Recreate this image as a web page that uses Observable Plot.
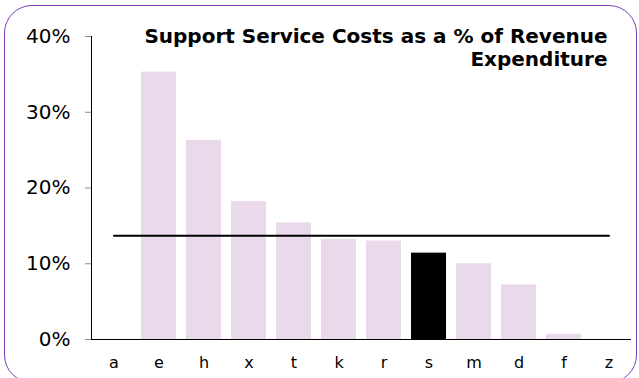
<!DOCTYPE html>
<html>
<head>
<meta charset="utf-8">
<script src="https://cdn.jsdelivr.net/npm/d3@7"></script>
<script src="https://cdn.jsdelivr.net/npm/@observablehq/plot@0.6"></script>
<style>
  html, body { margin: 0; padding: 0; background: #fff; }
  #wrap { position: relative; width: 639px; height: 378px; overflow: hidden; }
  #border { position: absolute; left: 4px; top: 5px; width: 631px; height: 376px;
    border: 1.5px solid #7a3bbb; border-radius: 28px; pointer-events: none; }
  svg { font-family: "DejaVu Sans", Verdana, sans-serif; }
</style>
</head>
<body>
<div id="wrap"><div id="border"></div></div>
<script>
const categories = ["a","e","h","x","t","k","r","s","m","d","f","z"];
const values = [0, 35.3, 26.3, 18.2, 15.4, 13.2, 13.0, 11.4, 10.0, 7.2, 0.7, 0];
const highlight = "s";
const average = 13.7;
const yTicks = [0, 10, 20, 30, 40];
const title = "Support Service Costs as a % of Revenue\nExpenditure";

const data = categories.map((c, i) => ({cat: c, value: values[i]}));
const avgLine = [categories[0], categories[categories.length - 1]].map(c => ({cat: c, value: average}));

const chart = Plot.plot({
  width: 639,
  height: 378,
  marginLeft: 91,
  marginRight: 8,
  marginTop: 36,
  marginBottom: 39,
  style: {fontFamily: "DejaVu Sans, Verdana, sans-serif", background: "transparent"},
  x: {domain: categories, paddingInner: 0.22, paddingOuter: 0.11},
  y: {domain: [0, 40]},
  marks: [
    Plot.barY(data.filter(d => d.value > 0), {x: "cat", y: "value",
      fill: d => d.cat === highlight ? "#000000" : "#ead9eb"}),
    Plot.lineY(avgLine, {x: "cat", y: "value", stroke: "#000", strokeWidth: 2}),
    Plot.axisY({ticks: yTicks, tickFormat: d => d + "%", tickSize: 6, tickPadding: 15,
      fontSize: 20, label: null, stroke: "#888", fill: "#000"}),
    Plot.axisX({tickSize: 0, tickPadding: 17, fontSize: 16, label: null}),
    Plot.frame({anchor: "left", stroke: "#000"}),
    Plot.ruleY([0], {stroke: "#000"}),
    Plot.text([title], {frameAnchor: "top-right", dx: -24, dy: -10.5, textAnchor: "end",
      lineAnchor: "top", fontWeight: "bold", fontSize: 20, lineHeight: 1.18, fill: "#000"})
  ]
});
document.getElementById("wrap").prepend(chart);
</script>
</body>
</html>
